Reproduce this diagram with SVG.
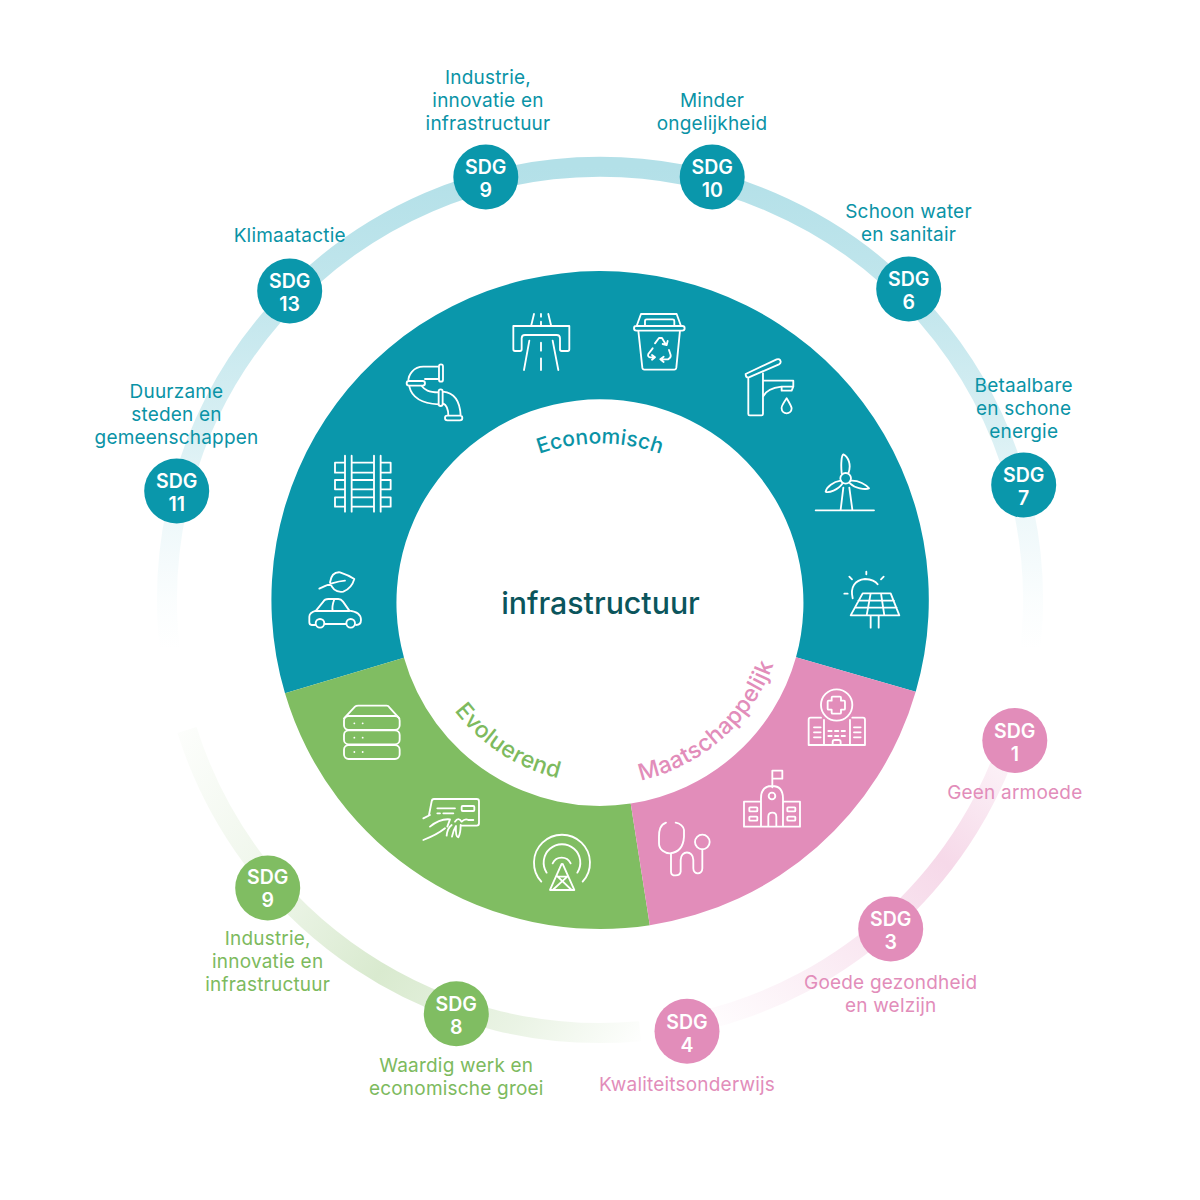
<svg xmlns="http://www.w3.org/2000/svg" width="1200" height="1200" viewBox="0 0 1200 1200">
<style>
text{font-family:"Inter","Liberation Sans",sans-serif;text-anchor:middle}
.l{font-size:19px;letter-spacing:.2px}
.t{fill:#0a93a6}.g{fill:#7dba5e}.p{fill:#e28dba}
.n{font-size:19.5px;font-weight:600;fill:#fff}
.c{font-weight:500}
.i{fill:none;stroke:#fff;stroke-width:5.5;stroke-linecap:round;stroke-linejoin:round}
.track{fill:none;stroke-width:20}
</style>
<defs>
<linearGradient id="gt" gradientUnits="userSpaceOnUse" x1="0" y1="167" x2="0" y2="650"><stop offset="0" stop-color="#b3e0e8"/><stop offset=".28" stop-color="#b3e0e8" stop-opacity=".8"/><stop offset=".55" stop-color="#b3e0e8" stop-opacity=".5"/><stop offset=".73" stop-color="#b3e0e8" stop-opacity=".22"/><stop offset=".9" stop-color="#b3e0e8" stop-opacity=".06"/><stop offset="1" stop-color="#b3e0e8" stop-opacity="0"/></linearGradient>
<linearGradient id="gg" gradientUnits="userSpaceOnUse" x1="165" y1="700" x2="650" y2="1040"><stop offset="0" stop-color="#d9eacf" stop-opacity="0"/><stop offset=".33" stop-color="#d9eacf" stop-opacity=".45"/><stop offset=".56" stop-color="#d9eacf"/><stop offset=".8" stop-color="#d9eacf" stop-opacity=".55"/><stop offset="1" stop-color="#d9eacf" stop-opacity="0"/></linearGradient>
<linearGradient id="gp" gradientUnits="userSpaceOnUse" x1="700" y1="1040" x2="1040" y2="650"><stop offset="0" stop-color="#f6d9e9" stop-opacity="0"/><stop offset=".25" stop-color="#f6d9e9" stop-opacity=".45"/><stop offset=".57" stop-color="#f6d9e9"/><stop offset=".76" stop-color="#f6d9e9" stop-opacity=".45"/><stop offset=".92" stop-color="#f6d9e9" stop-opacity=".05"/></linearGradient>
<path id="pe" d="M417 626.5A183 183 0 0 1 783 626.5"/>
<path id="pv" d="M417 600A183 183 0 0 0 783 600"/>
<path id="pm" d="M415 600A185 185 0 0 0 785 600"/>
</defs>
<rect width="1200" height="1200" fill="#fff"/>
<g id="connectors">
<path class="track" stroke="url(#gt)" d="M171.2 660A433 433 0 1 1 1028.8 660"/>
<path class="track" stroke="url(#gg)" d="M187 730A433 433 0 0 0 640 1031.2"/>
<path class="track" stroke="url(#gp)" d="M700 1021.3A433 433 0 0 0 1014 727"/>
</g>
<g id="ring">
<path fill="#0a97ab" d="M285 693.3A328.7 328.7 0 1 1 915.7 691.7L796 657.3A203.5 203.5 0 1 0 404 657.7Z"/>
<path fill="#80bd62" d="M285 693.3L404 657.7A203.5 203.5 0 0 0 630.7 803.6L649.8 925.2A328.7 328.7 0 0 1 285 693.3Z"/>
<path fill="#e28dba" d="M630.7 803.6A203.5 203.5 0 0 0 796 657.3L915.7 691.7A328.7 328.7 0 0 1 649.8 925.2Z"/>
<text class="c" style="fill:#0a93a6;font-size:21px;letter-spacing:.1px"><textPath href="#pe" startOffset="50%">Economisch</textPath></text>
<text class="c" style="fill:#7dba5e;font-size:23px;letter-spacing:.3px"><textPath href="#pv" startOffset="31.7%">Evoluerend</textPath></text>
<text class="c" style="fill:#e28dba;font-size:23px;letter-spacing:.3px"><textPath href="#pm" startOffset="72.9%">Maatschappelijk</textPath></text>
<text x="600.5" y="614" style="font-size:30.3px;font-weight:500;fill:#0b555c">infrastructuur</text>
</g>
<g id="icons">
<g id="icons-top" class="i" transform="translate(480 290) scale(.3333)">
<path d="M100 108H268V178q0 5-5 5H245q-5 0-5-5V145q0-10-10-10H135q-10 0-10 10V178q0 5-5 5H105q-5 0-5-5ZM162 72L154 105M205 72L213 105M183 72V80M183 95V105M148 152L132 240M218 152L235 240M183 158V182M183 205V240"/>
<path d="M470 108L483 72H590L603 108M495 105V92q0-4 5-4H578q5 0 5 4V105M469 108H607a7 7 0 0 1 0 14H469a7 7 0 0 1 0-14ZM475 122L487 233q1 6 6 6H583q5 0 6-6L600 122M525 160L537 144H546L558 164M548 162L560 165L563 153M518 175L505 192q-3 8 5 10H524M516 195L525 202L516 209M567 180L572 195q2 8-8 13H542M551 200L541 208L551 216"/>
<path d="M797 252L890 208q10-3 12 6q1 6-5 9L805 263q-8 0-8-11ZM805 263V372q0 4 4 4H845q4 0 4-4V250M849 272H940V290H905M849 320Q860 295 905 290V302H935L940 290M920 325Q903 350 905 355a15 15 0 0 0 30 0Q935 350 920 325Z"/>
</g>
<g id="icons-left" class="i" transform="translate(290 350) scale(.3333)">
<path d="M445 50H400C370 50 355 75 355 93M445 87H405M453 43a6 6 0 0 1 6 6V89a6 6 0 0 1-12 0V49a6 6 0 0 1 6-6ZM357 93H398a7 7 0 0 1 0 14H357a7 7 0 0 1 0-14ZM358 110C365 140 390 160 445 163M395 108C405 120 415 127 445 127M452 118a6 6 0 0 1 6 6V162a6 6 0 0 1-12 0V124a6 6 0 0 1 6-6ZM459 125C490 128 510 150 512 197M459 160C470 165 475 180 475 197M472 197H510a7 7 0 0 1 0 14H472a7 7 0 0 1 0-14Z"/>
<path d="M165 317V485M185 317V485M252 317V485M272 317V485M185 338H252M185 368H252M185 390H252M185 418H252M185 442H252M185 470H252M165 338H135V368H165M165 390H135V418H165M165 442H135V470H165M272 338H302V368H272M272 390H302V418H272M272 442H302V470H272"/>
<path d="M76 825H65q-7 0-7-8V800q0-12 20-18L100 755q4-8 15-8H145q8 0 14 8L178 782q35 4 35 28q0 15-15 15M103 822H169M133 748Q125 770 128 783H178M78 783H128M120 697Q125 665 150 667Q175 675 193 687Q185 715 160 725Q130 730 120 697ZM88 716Q130 695 165 692"/>
<circle cx="90" cy="820" r="13"/><circle cx="182" cy="820" r="13"/>
</g>
<g id="icons-right" class="i" transform="translate(800 440) scale(.3333)">
<path d="M47 211H222M122 209L130 143M157 209L148 143M125 100C122 70 125 45 130 43C145 50 155 75 145 100M122 122C100 125 80 140 77 155C85 160 115 150 128 130M152 122C175 120 200 135 207 145C195 150 165 145 150 130"/>
<circle cx="137" cy="115" r="16"/>
<path d="M188 460H272L298 526H152ZM175 482H282M165 503H290M212 460L200 526M243 460L253 526M212 526V563M236 526V563M158 475C150 440 165 420 195 417C215 418 228 425 233 433M199 395V403M148 410L156 418M251 410L243 418M133 461H143"/>
</g>
<g id="icons-pink" class="i" transform="translate(640 680) scale(.3333)">
<circle cx="590" cy="75" r="47"/>
<path d="M575 53q0-3 3-3H600q3 0 3 3V62H612q3 0 3 3V86q0 3-3 3H603v9q0 3-3 3H578q-3 0-3-3V89H566q-3 0-3-3V65q0-3 3-3H575ZM543 113H512q-6 0-6 6V195H675V119q0-6-6-6H637M552 120V195M630 120V195M522 142H542M522 157H542M522 172H542M642 142H662M642 157H662M642 172H662M565 153H575M585 153H595M605 153H615M565 168H575M585 168H595M605 168H615M578 195V186q0-6 6-6H596q6 0 6 6V195"/>
<path d="M397 322V272H427V296H397M363 440V355q0-37 33-37q33 0 33 37V440M385 440V410q0-12 12-12q12 0 12 12V440M363 365H312V440H480V365H429"/>
<circle cx="396" cy="348" r="10"/>
<rect x="328" y="382" width="24" height="12" rx="2"/><rect x="328" y="410" width="24" height="12" rx="2"/><rect x="442" y="382" width="24" height="12" rx="2"/><rect x="442" y="410" width="24" height="12" rx="2"/>
<path d="M78 428C60 435 57 450 57 470V490C57 510 75 520 90 520C110 518 130 505 132 470V450C132 440 120 430 107 428M93 520V575C93 590 120 590 122 575V540C122 510 160 510 160 540V565C160 585 187 585 187 565V508"/>
<circle cx="187" cy="486" r="22"/>
</g>
<g id="icons-green" class="i" transform="translate(330 690) scale(.3333)">
<path d="M42 85L75 50Q78 47 85 47H170Q175 47 178 52L208 85"/>
<rect x="42" y="78" width="167" height="42" rx="14"/><rect x="42" y="121" width="167" height="42" rx="14"/><rect x="42" y="165" width="167" height="42" rx="14"/>
<path d="M73 100h.1M98 100h.1M73 143h.1M98 143h.1M73 186h.1M98 186h.1"/>
<path d="M297 375L305 334q1-7 7-7H440q7 0 7 7V400q0 7-7 7H395M322 355H375M322 370H330M340 370H370M375 395Q385 380 395 395Q405 385 415 390H430M280 385L300 375M300 410Q330 385 360 388L352 410M280 450Q320 435 345 415M350 437Q352 415 365 405M366 440Q370 420 378 408Q376 440 385 442Q392 430 392 405"/>
<rect x="395" y="348" width="38" height="15" rx="3"/>
<path d="M634 575A84 84 0 1 1 758 575M650 548A55 55 0 1 1 742 548M668 520A30 30 0 0 1 722 520M695 522L660 600H733L698 522M683 560H712M683 560L725 600M712 560L668 600"/>
</g>
</g>
<g id="sdg9t"><circle cx="485.8" cy="177" r="32.5" fill="#0a97ab"/><text class="n" x="485.8" y="174">SDG</text><text class="n" x="485.8" y="197">9</text><text class="l t" x="488" y="84">Industrie,</text><text class="l t" x="488" y="107">innovatie en</text><text class="l t" x="488" y="130">infrastructuur</text></g>
<g id="sdg10"><circle cx="712.2" cy="177" r="32.5" fill="#0a97ab"/><text class="n" x="712.2" y="174">SDG</text><text class="n" x="712.2" y="197">10</text><text class="l t" x="712" y="107">Minder</text><text class="l t" x="712" y="130">ongelijkheid</text></g>
<g id="sdg6"><circle cx="908.7" cy="289" r="32.5" fill="#0a97ab"/><text class="n" x="908.7" y="286">SDG</text><text class="n" x="908.7" y="309">6</text><text class="l t" x="908.5" y="218">Schoon water</text><text class="l t" x="908.5" y="241">en sanitair</text></g>
<g id="sdg7"><circle cx="1023.7" cy="485" r="32.5" fill="#0a97ab"/><text class="n" x="1023.7" y="482">SDG</text><text class="n" x="1023.7" y="505">7</text><text class="l t" x="1023.7" y="391.5">Betaalbare</text><text class="l t" x="1023.7" y="414.5">en schone</text><text class="l t" x="1023.7" y="437.5">energie</text></g>
<g id="sdg1"><circle cx="1014.8" cy="740.5" r="32.5" fill="#e28dba"/><text class="n" x="1014.8" y="738">SDG</text><text class="n" x="1014.8" y="761">1</text><text class="l p" x="1014.8" y="798.5">Geen armoede</text></g>
<g id="sdg3"><circle cx="890.7" cy="929" r="32.5" fill="#e28dba"/><text class="n" x="890.7" y="926">SDG</text><text class="n" x="890.7" y="949">3</text><text class="l p" x="890.7" y="988.5">Goede gezondheid</text><text class="l p" x="890.7" y="1011.5">en welzijn</text></g>
<g id="sdg4"><circle cx="687" cy="1031.3" r="32.5" fill="#e28dba"/><text class="n" x="687" y="1028.5">SDG</text><text class="n" x="687" y="1051.5">4</text><text class="l p" x="687" y="1090.5">Kwaliteitsonderwijs</text></g>
<g id="sdg8"><circle cx="456.3" cy="1013.7" r="32.5" fill="#80bd62"/><text class="n" x="456.3" y="1010.5">SDG</text><text class="n" x="456.3" y="1033.5">8</text><text class="l g" x="456.3" y="1071.5">Waardig werk en</text><text class="l g" x="456.3" y="1094.5">economische groei</text></g>
<g id="sdg9g"><circle cx="267.7" cy="888" r="32.5" fill="#80bd62"/><text class="n" x="267.7" y="884">SDG</text><text class="n" x="267.7" y="907">9</text><text class="l g" x="267.7" y="944.5">Industrie,</text><text class="l g" x="267.7" y="967.5">innovatie en</text><text class="l g" x="267.7" y="990.5">infrastructuur</text></g>
<g id="sdg11"><circle cx="176.7" cy="491" r="32.5" fill="#0a97ab"/><text class="n" x="176.7" y="488">SDG</text><text class="n" x="176.7" y="511">11</text><text class="l t" x="176.5" y="397.5">Duurzame</text><text class="l t" x="176.5" y="420.5">steden en</text><text class="l t" x="176.5" y="443.5">gemeenschappen</text></g>
<g id="sdg13"><circle cx="289.7" cy="291" r="32.5" fill="#0a97ab"/><text class="n" x="289.7" y="288">SDG</text><text class="n" x="289.7" y="311">13</text><text class="l t" x="289.7" y="242">Klimaatactie</text></g>
</svg>
